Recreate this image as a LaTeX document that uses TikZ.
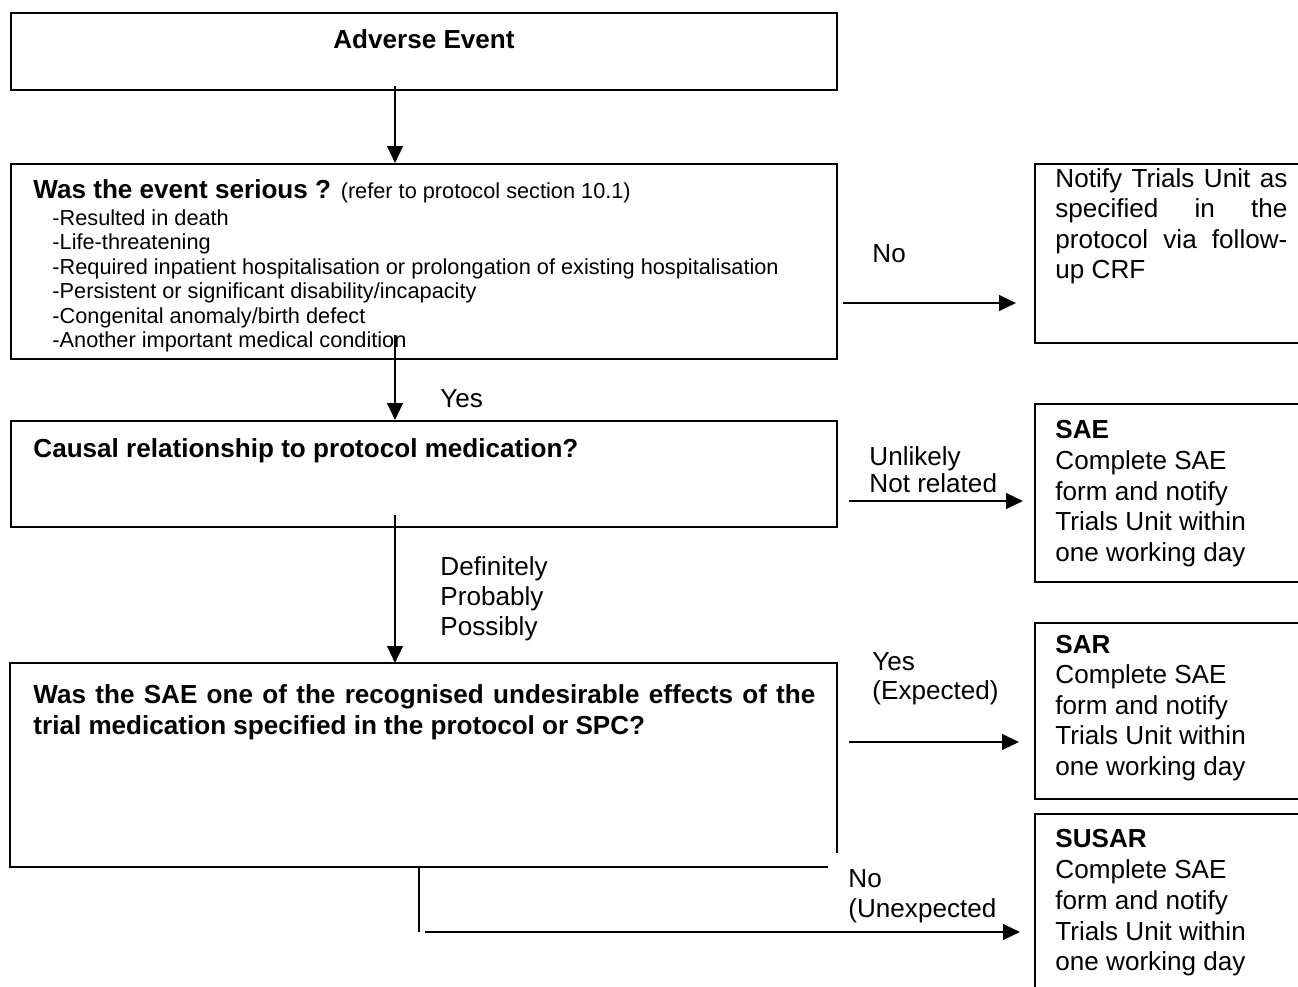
\documentclass[tikz,border=0pt]{standalone}
\usepackage{fontspec}
\setmainfont{Liberation Sans}
\usetikzlibrary{arrows.meta}
\newcommand\pxu{0.46pt}
\begin{document}
\begin{tikzpicture}[x=0.46pt, y=-0.46pt,
  boxline/.style={draw, line width=0.8pt},
  box/.style={boxline, anchor=north west, inner sep=0pt},
  arr/.style={line width=1pt, -{Triangle[length=7.8pt,width=7.2pt]}},
  lbl/.style={anchor=base west, inner sep=0pt, font=\fontsize{12}{14}\selectfont},
  sml/.style={anchor=base west, inner sep=0pt, font=\fontsize{10}{12}\selectfont},
  hd/.style={lbl, font=\fontsize{12}{14}\selectfont\bfseries},
]
\useasboundingbox (0,0) rectangle (1298,987);

% boxes
\node[box, minimum width={826*\pxu}, minimum height={77*\pxu}] (A) at (10,12) {};
\node[box, minimum width={826*\pxu}, minimum height={195*\pxu}] (B) at (10,163) {};
\node[box, minimum width={826*\pxu}, minimum height={106*\pxu}] (C) at (10,420) {};
\node[anchor=north west, inner sep=0pt, minimum width={826*\pxu}, minimum height={203*\pxu}] (D) at (10,663) {};
\draw[line width=0.8pt] ([xshift={-9*\pxu}]D.south east) -- (D.south west) -- (D.north west) -- (D.north east) -- ([yshift={14*\pxu}]D.south east);
\node[box, minimum width={280*\pxu}, minimum height={179*\pxu}] (R1) at (1034,163) {};
\node[box, minimum width={280*\pxu}, minimum height={178*\pxu}] (R2) at (1034,403) {};
\node[box, minimum width={280*\pxu}, minimum height={176*\pxu}] (R3) at (1034,622) {};
\node[box, minimum width={280*\pxu}, minimum height={200*\pxu}] (R4) at (1034,813) {};

% connectors
\coordinate (xm) at (395,0);
\draw[arr] ([yshift={5*\pxu}]A.south -| xm) -- (B.north -| xm);
\coordinate (s2) at (395,335);
\draw[arr] (s2) -- (C.north -| s2);
\coordinate (s3) at (395,515);
\draw[arr] (s3) -- (D.north -| s3);
\coordinate (h1) at (843,303);
\draw[arr, shorten >={18*\pxu}] (h1) -- (h1 -| R1.west);
\coordinate (h2) at (849,501);
\draw[arr, shorten >={11*\pxu}] (h2) -- (h2 -| R2.west);
\coordinate (h3) at (849,742);
\draw[arr, shorten >={15*\pxu}] (h3) -- (h3 -| R3.west);
\coordinate (dc) at (419,932);
\draw[line width=1pt] (D.south -| dc) -- (dc);
\coordinate (h4) at (425,932);
\draw[arr, shorten >={14*\pxu}] (h4) -- (h4 -| R4.west);

% texts
\node[hd, anchor=base] (tA) at (424,48) {Adverse Event};
\node[lbl] (tB) at (33,198) {\textbf{Was the event serious ?} {\fontsize{10}{12}\selectfont (refer to protocol section 10.1)}};
\node[sml] (b1) at (52,225) {-Resulted in death};
\node[sml] (b2) at (52,249.5) {-Life-threatening};
\node[sml] (b3) at (52,274) {-Required inpatient hospitalisation or prolongation of existing hospitalisation};
\node[sml] (b4) at (52,298.5) {-Persistent or significant disability/incapacity};
\node[sml] (b5) at (52,323) {-Congenital anomaly/birth defect};
\node[sml] (b6) at (52,347.5) {-Another important medical condition};

\node[lbl] (lNo) at (872,262) {No};
\node[lbl] (lYes) at (440,407) {Yes};
\node[hd] (tC) at (33,457) {Causal relationship to protocol medication?};
\node[lbl] (lU1) at (869,465) {Unlikely};
\node[lbl] (lU2) at (869,492) {Not related};
\node[lbl] (lD1) at (440,575) {Definitely};
\node[lbl] (lD2) at (440,605) {Probably};
\node[lbl] (lD3) at (440,635) {Possibly};
\node[lbl] (lE1) at (872,670) {Yes};
\node[lbl] (lE2) at (872,699) {(Expected)};
\node[hd] (tD1) at (33,703) {\makebox[359.7pt][s]{Was the SAE one of the recognised undesirable effects of the}};
\node[hd] (tD2) at (33,734) {trial medication specified in the protocol or SPC?};
\node[lbl] (lN1) at (848,887) {No};
\node[lbl] (lN2) at (848,917) {(Unexpected};

% right boxes text
\node[lbl] (r11) at (1055,187) {\makebox[106.7pt][s]{Notify Trials Unit as}};
\node[lbl] (r12) at (1055,217.5) {\makebox[106.7pt][s]{specified in the}};
\node[lbl] (r13) at (1055,248) {\makebox[106.7pt][s]{protocol via follow-}};
\node[lbl] (r14) at (1055,278.5) {up CRF};

\node[hd] (r21) at (1055,438) {SAE};
\node[lbl] (r22) at (1055,469) {Complete SAE};
\node[lbl] (r23) at (1055,500) {form and notify};
\node[lbl] (r24) at (1055,530) {Trials Unit within};
\node[lbl] (r25) at (1055,561) {one working day};

\node[hd] (r31) at (1055,653) {SAR};
\node[lbl] (r32) at (1055,683.5) {Complete SAE};
\node[lbl] (r33) at (1055,714) {form and notify};
\node[lbl] (r34) at (1055,744.5) {Trials Unit within};
\node[lbl] (r35) at (1055,775) {one working day};

\node[hd] (r41) at (1055,847) {SUSAR};
\node[lbl] (r42) at (1055,878) {Complete SAE};
\node[lbl] (r43) at (1055,909) {form and notify};
\node[lbl] (r44) at (1055,940) {Trials Unit within};
\node[lbl] (r45) at (1055,970) {one working day};
\end{tikzpicture}
\end{document}
